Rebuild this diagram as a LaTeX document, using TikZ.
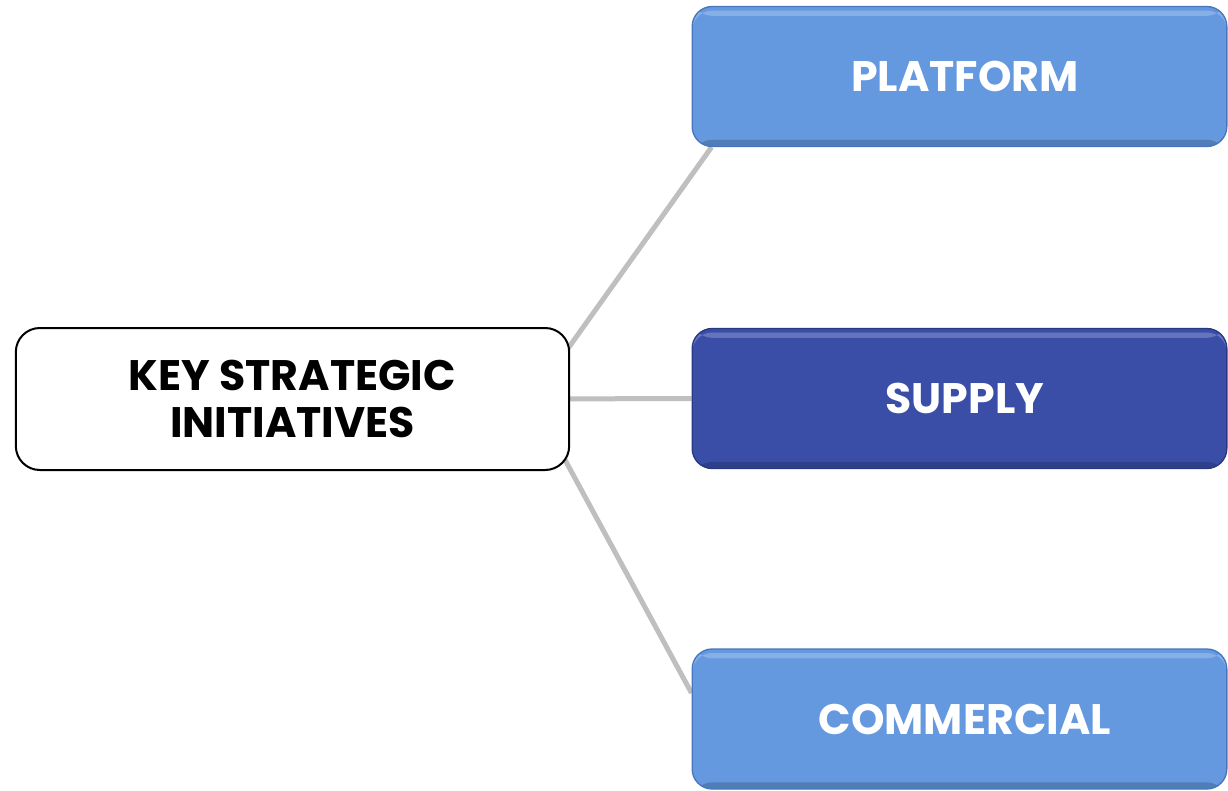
\documentclass[tikz,border=0pt]{standalone}
\usepackage{fontspec}
\setmainfont{Poppins}
\usepackage{tikz}
\usepackage{xcolor}
\usetikzlibrary{backgrounds}
\definecolor{lightblue}{RGB}{100,153,224}
\definecolor{lightblue-edge}{RGB}{72,118,190}
\definecolor{darkblue}{RGB}{58,78,168}
\definecolor{darkblue-edge}{RGB}{40,56,130}
\definecolor{link-gray}{RGB}{191,191,191}
\tikzset{
    root-box/.style = {draw=black, fill=white, line width=1.5pt, rectangle, rounded corners=18pt, minimum width=415pt, minimum height=106.5pt, align=center, text=black, font=\fontsize{32}{35}\selectfont\bfseries},
    initiative-box/.style = {draw=#1-edge, fill=#1, line width=1pt, rectangle, rounded corners=15pt, minimum width=401pt, minimum height=105pt, text=white, font=\fontsize{32}{35}\selectfont\bfseries, execute at begin node=\hspace*{8pt},
        path picture={
            \fill [white, opacity=0.22] ([yshift=-3pt]path picture bounding box.north west) rectangle ([yshift=-7pt]path picture bounding box.north east);
            \fill [black, opacity=0.18] ([yshift=5pt]path picture bounding box.south west) rectangle (path picture bounding box.south east);
        }},
    link-line/.style = {draw=link-gray, line width=3.75pt},
}

\begin{document}
\begin{tikzpicture}[x=0.75pt, y=-0.75pt]
\useasboundingbox (0,0) rectangle (1228,790);
\node [root-box] (root) at (292.5,399) {KEY STRATEGIC\\INITIATIVES};
\node [initiative-box=lightblue] (platform) at (959.5,76.5) {PLATFORM};
\node [initiative-box=darkblue] (supply) at (959.5,398.5) {SUPPLY};
\node [initiative-box=lightblue] (commercial) at (959.5,719) {COMMERCIAL};
\coordinate (hub) at (532,399);
\begin{pgfonlayer}{background}
    \draw [link-line] (hub) -- ([xshift=15pt]platform.south west);
    \draw [link-line] (hub) -- (supply.west);
    \draw [link-line] (hub) -- ([yshift=19.5pt]commercial.west);
\end{pgfonlayer}
\end{tikzpicture}
\end{document}
